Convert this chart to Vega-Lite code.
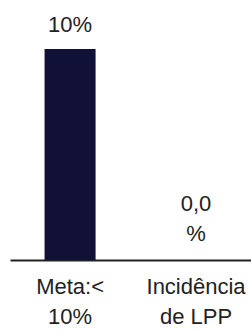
{
  "$schema": "https://vega.github.io/schema/vega-lite/v6.json",
  "autosize": "none",
  "width": 241,
  "height": 211,
  "padding": {"left": 10, "top": 49, "right": 0, "bottom": 72},
  "background": "white",
  "config": {"view": {"stroke": null}, "font": "Liberation Sans"},
  "data": {"values": [
    {"categoria": "Meta:< 10%", "valor": 0.10, "rotulo": "10%"},
    {"categoria": "Incidência de LPP", "valor": 0.0, "rotulo": "0,0\n%"}
  ]},
  "encoding": {
    "x": {
      "field": "categoria", "type": "nominal", "sort": null,
      "scale": {"paddingInner": 0.595, "paddingOuter": 0.254, "align": 0.54},
      "axis": {
        "title": null, "labelAngle": 0, "ticks": false,
        "domainColor": "#222222", "domainWidth": 2,
        "labelFontSize": 22, "labelColor": "#222222", "labelLineHeight": 30,
        "labelPadding": 16, "labelBaseline": "top",
        "labelExpr": "[slice(datum.label, 0, indexof(datum.label, ' ')), slice(datum.label, indexof(datum.label, ' ') + 1)]"
      }
    },
    "y": {
      "field": "valor", "type": "quantitative",
      "scale": {"domain": [0, 0.1]},
      "axis": null
    }
  },
  "layer": [
    {"mark": {"type": "bar", "color": "#111138"}},
    {"transform": [{"filter": "indexof(datum.rotulo, '\\n') < 0"}],
     "mark": {"type": "text", "baseline": "bottom", "dy": -12, "fontSize": 22, "color": "#222222"},
     "encoding": {"text": {"field": "rotulo"}}},
    {"transform": [{"filter": "indexof(datum.rotulo, '\\n') >= 0"}],
     "mark": {"type": "text", "baseline": "bottom", "dy": -44, "fontSize": 22, "color": "#222222", "lineBreak": "\n", "lineHeight": 30},
     "encoding": {"text": {"field": "rotulo"}}}
  ]
}
